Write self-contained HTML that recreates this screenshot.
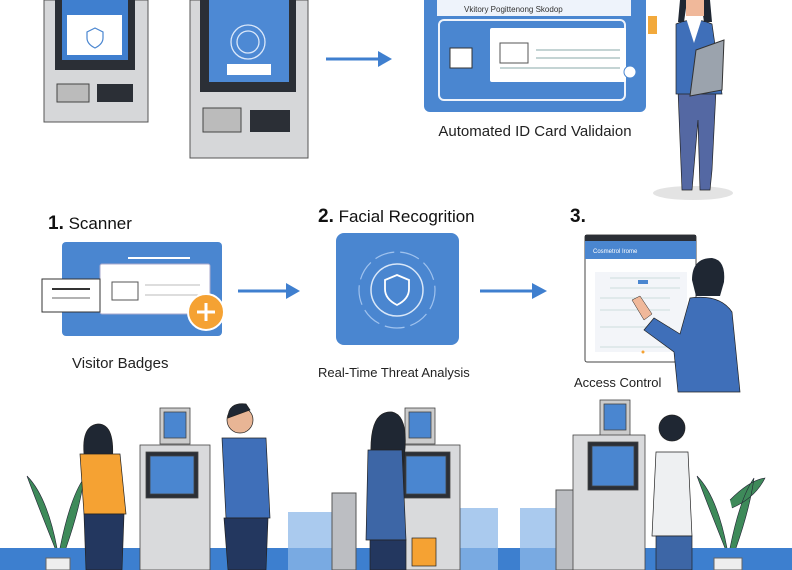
<!DOCTYPE html>
<html><head><meta charset="utf-8"><style>
html,body{margin:0;padding:0;background:#fff;width:792px;height:570px;overflow:hidden}
svg{display:block;font-family:"Liberation Sans",sans-serif}
</style></head><body>
<svg width="792" height="570" viewBox="0 0 792 570" xmlns="http://www.w3.org/2000/svg">
<rect width="792" height="570" fill="#fff"/>
<!-- kiosk 1 -->
<rect x="44" y="0" width="104" height="122" fill="#d6d7d9" stroke="#555" stroke-width="1"/>
<rect x="55" y="0" width="80" height="70" fill="#2b2f36"/>
<rect x="62" y="0" width="66" height="60" fill="#3f7fcf"/>
<rect x="67" y="15" width="55" height="40" fill="#fff"/>
<path d="M95 28 l8 4 v6 q0 6 -8 10 q-8 -4 -8 -10 v-6z" fill="none" stroke="#4a86d0" stroke-width="1.2"/>
<rect x="57" y="84" width="32" height="18" fill="#bbb" stroke="#444"/><rect x="97" y="84" width="36" height="18" fill="#2b2f36"/>
<!-- kiosk 2 -->
<rect x="190" y="0" width="118" height="158" fill="#d6d7d9" stroke="#555"/>
<rect x="200" y="0" width="96" height="92" fill="#2b2f36"/>
<rect x="209" y="0" width="80" height="82" fill="#4d89d4"/>
<circle cx="248" cy="42" r="17" fill="none" stroke="#dbe8fa" stroke-width="1.3"/><circle cx="248" cy="42" r="11" fill="none" stroke="#dbe8fa" stroke-width="1.3"/>
<rect x="227" y="64" width="44" height="11" fill="#fff"/>
<rect x="203" y="108" width="38" height="24" fill="#bbb" stroke="#444"/><rect x="250" y="110" width="40" height="22" fill="#2b2f36"/>
<!-- arrow 1 -->
<line x1="326" y1="59" x2="382" y2="59" stroke="#3f7fcf" stroke-width="3"/><polygon points="378,51 392,59 378,67" fill="#3f7fcf"/>
<!-- blue panel -->
<rect x="424" y="-6" width="222" height="118" rx="6" fill="#4a86d0"/>
<rect x="437" y="0" width="194" height="16" fill="#eef3fb"/>
<text x="464" y="12" font-size="8" fill="#333">Vkitory Pogittenong Skodop</text>
<rect x="439" y="20" width="186" height="80" rx="5" fill="#4a86d0" stroke="#eef3fb" stroke-width="2"/>
<rect x="490" y="28" width="136" height="54" rx="2" fill="#fff"/>
<rect x="500" y="43" width="28" height="20" fill="#fff" stroke="#555"/>
<line x1="536" y1="50" x2="620" y2="50" stroke="#8aa" /><line x1="536" y1="58" x2="620" y2="58" stroke="#8aa"/><line x1="500" y1="68" x2="620" y2="68" stroke="#8aa"/>
<rect x="450" y="48" width="22" height="20" fill="#fff" stroke="#333"/>
<circle cx="630" cy="72" r="6" fill="#fff" stroke="#4a86d0"/>
<text x="535" y="136" font-size="15" fill="#222" text-anchor="middle">Automated ID Card Validaion</text>
<!-- woman top right -->
<ellipse cx="693" cy="193" rx="40" ry="7" fill="#e3e3e3"/>
<path d="M678 90 h38 l-4 80 l-2 20 h-10 l-2 -70 l-6 70 h-10 z" fill="#5468a3" stroke="#222" stroke-width="0.7"/>
<path d="M676 24 q18 -8 36 0 l10 70 h-46z" fill="#3f6fb9" stroke="#222" stroke-width="0.7"/>
<path d="M686 18 l8 25 l8 -25z" fill="#fff"/>
<rect x="648" y="16" width="9" height="18" fill="#f2a93b"/>
<polygon points="696,50 724,40 722,90 690,96" fill="#9ba3ad" stroke="#333"/>
<path d="M680 0 h30 l2 22 h-8 l-2 -14 h-16 l-2 14 h-6z" fill="#1f2733"/>
<rect x="686" y="0" width="18" height="16" fill="#f0b89a"/>
<!-- middle row -->
<text x="48" y="229" font-size="17" fill="#111"><tspan font-weight="bold" font-size="19">1.</tspan> Scanner</text>
<rect x="62" y="242" width="160" height="94" rx="4" fill="#4a86d0"/>
<rect x="100" y="264" width="110" height="50" rx="2" fill="#fff" stroke="#aac"/>
<line x1="128" y1="258" x2="190" y2="258" stroke="#fff" stroke-width="2"/>
<rect x="112" y="282" width="26" height="18" fill="#fff" stroke="#555"/>
<line x1="145" y1="285" x2="200" y2="285" stroke="#bbb"/><line x1="145" y1="295" x2="200" y2="295" stroke="#bbb"/>
<rect x="42" y="279" width="58" height="33" fill="#fff" stroke="#333"/>
<line x1="52" y1="289" x2="90" y2="289" stroke="#333" stroke-width="2"/><line x1="52" y1="298" x2="90" y2="298" stroke="#666"/>
<circle cx="206" cy="312" r="18" fill="#f5a233" stroke="#fff" stroke-width="2"/>
<path d="M206 303 v18 M197 312 h18" stroke="#fff" stroke-width="3"/>
<text x="72" y="368" font-size="15" fill="#222">Visitor Badges</text>
<line x1="238" y1="291" x2="290" y2="291" stroke="#3f7fcf" stroke-width="3"/><polygon points="286,283 300,291 286,299" fill="#3f7fcf"/>
<text x="318" y="222" font-size="17" fill="#111"><tspan font-weight="bold" font-size="19">2.</tspan>  Facial Recogrition</text>
<rect x="336" y="233" width="123" height="112" rx="8" fill="#4a86d0"/>
<circle cx="397" cy="290" r="38" fill="none" stroke="#9fc2ee" stroke-width="1.2" stroke-dasharray="20 6"/>
<circle cx="397" cy="290" r="26" fill="none" stroke="#d9e7f8" stroke-width="1.5"/>
<path d="M397 275 l12 5 v9 q0 10 -12 16 q-12 -6 -12 -16 v-9z" fill="none" stroke="#fff" stroke-width="1.8"/>
<text x="318" y="377" font-size="13" fill="#222">Real-Time Threat Analysis</text>
<line x1="480" y1="291" x2="536" y2="291" stroke="#3f7fcf" stroke-width="3"/><polygon points="532,283 547,291 532,299" fill="#3f7fcf"/>
<text x="570" y="222" font-size="19" font-weight="bold" fill="#111">3.</text>
<rect x="585" y="235" width="111" height="127" rx="2" fill="#fff" stroke="#444"/>
<rect x="585" y="235" width="111" height="6" fill="#2b2f36"/>
<rect x="585" y="241" width="111" height="18" fill="#4a86d0"/>
<text x="593" y="253" font-size="6" fill="#fff">Cosmetrol Irome</text>
<rect x="595" y="272" width="92" height="80" fill="#f3f5f9"/>
<line x1="610" y1="278" x2="680" y2="278" stroke="#cdd"/><line x1="610" y1="288" x2="680" y2="288" stroke="#cdd"/><line x1="600" y1="298" x2="670" y2="298" stroke="#cdd"/><line x1="600" y1="310" x2="670" y2="310" stroke="#cdd"/><line x1="600" y1="327" x2="670" y2="327" stroke="#cdd"/><line x1="600" y1="347" x2="670" y2="347" stroke="#cdd"/>
<rect x="638" y="280" width="10" height="4" fill="#4a86d0"/>
<circle cx="643" cy="352" r="1.5" fill="#f5a233"/>
<path d="M690 298 q30 -4 42 14 l8 80 h-62 l-4 -40 l-30 -22 l10 -12 l26 16z" fill="#3f6fb9" stroke="#222" stroke-width="0.7"/>
<path d="M632 300 l8 -4 l12 18 l-8 6z" fill="#f0b89a" stroke="#222" stroke-width="0.5"/>
<path d="M692 280 q0 -22 20 -22 q14 2 12 24 l-4 14 h-24z" fill="#1f2733"/>
<text x="574" y="387" font-size="13" fill="#222">Access Control</text>
<!-- bottom floor -->
<rect x="0" y="548" width="792" height="22" fill="#3d7fcf"/>
<!-- plants -->
<path d="M55 548 q-20 -50 -28 -72 q20 20 30 72 M60 548 q10 -50 24 -70 q-4 30 -18 70" fill="#3e8a5a" stroke="#223" stroke-width="0.6"/>
<rect x="46" y="558" width="24" height="12" fill="#eee" stroke="#666"/>
<path d="M725 548 q-20 -50 -28 -72 q20 20 30 72 M730 548 q10 -50 24 -70 q-4 30 -18 70 M730 500 q20 -20 35 -22 q-10 20 -33 30" fill="#3e8a5a" stroke="#223" stroke-width="0.6"/>
<rect x="714" y="558" width="28" height="12" fill="#eee" stroke="#666"/>
<!-- glass gates -->
<rect x="288" y="512" width="66" height="58" fill="#8eb8e8" opacity="0.75"/>
<rect x="436" y="508" width="62" height="62" fill="#8eb8e8" opacity="0.75"/>
<rect x="520" y="508" width="54" height="62" fill="#8eb8e8" opacity="0.75"/>
<rect x="332" y="493" width="24" height="77" fill="#bcbec2" stroke="#555"/>
<rect x="556" y="490" width="24" height="80" fill="#bcbec2" stroke="#555"/>
<!-- bottom kiosks -->
<g stroke="#444" stroke-width="0.8">
<rect x="160" y="408" width="30" height="36" fill="#ccc"/><rect x="164" y="412" width="22" height="26" fill="#4a86d0"/>
<rect x="140" y="445" width="70" height="125" fill="#d9dadc"/><rect x="146" y="452" width="52" height="46" fill="#2b2f36"/><rect x="150" y="456" width="44" height="38" fill="#4a86d0"/>
<rect x="405" y="408" width="30" height="36" fill="#ccc"/><rect x="409" y="412" width="22" height="26" fill="#4a86d0"/>
<rect x="395" y="445" width="65" height="125" fill="#d9dadc"/><rect x="402" y="452" width="48" height="46" fill="#2b2f36"/><rect x="406" y="456" width="40" height="38" fill="#4a86d0"/>
<rect x="600" y="400" width="30" height="36" fill="#ccc"/><rect x="604" y="404" width="22" height="26" fill="#4a86d0"/>
<rect x="573" y="435" width="72" height="135" fill="#d9dadc"/><rect x="588" y="442" width="50" height="48" fill="#2b2f36"/><rect x="592" y="446" width="42" height="40" fill="#4a86d0"/>
</g>
<!-- people bottom -->
<g stroke="#222" stroke-width="0.7">
<path d="M86 468 q-8 -42 12 -44 q18 0 14 40z" fill="#1f2733"/>
<path d="M80 454 h40 l6 60 h-42z" fill="#f5a233"/><path d="M84 514 h40 l-2 56 h-36z" fill="#23375f"/>
<circle cx="240" cy="420" r="13" fill="#e8b595"/><path d="M228 418 q0 -16 18 -14 l4 6z" fill="#1f2733"/>
<path d="M222 438 h44 l4 80 h-44z" fill="#3f6fb9"/><path d="M224 518 h44 l-2 52 h-38z" fill="#23375f"/>
<path d="M372 470 q-6 -60 20 -58 q20 4 10 60z" fill="#1f2733"/>
<path d="M368 450 h34 l4 90 h-40z" fill="#3d66a6"/><path d="M370 540 h36 v30 h-36z" fill="#23375f"/>
<rect x="412" y="538" width="24" height="28" fill="#f5a233"/>
<circle cx="672" cy="428" r="13" fill="#1f2733"/>
<path d="M656 452 h32 l4 84 h-40z" fill="#eef0f2"/><path d="M656 536 h36 v34 h-36z" fill="#3d66a6"/>
</g>
</svg>
</body></html>
